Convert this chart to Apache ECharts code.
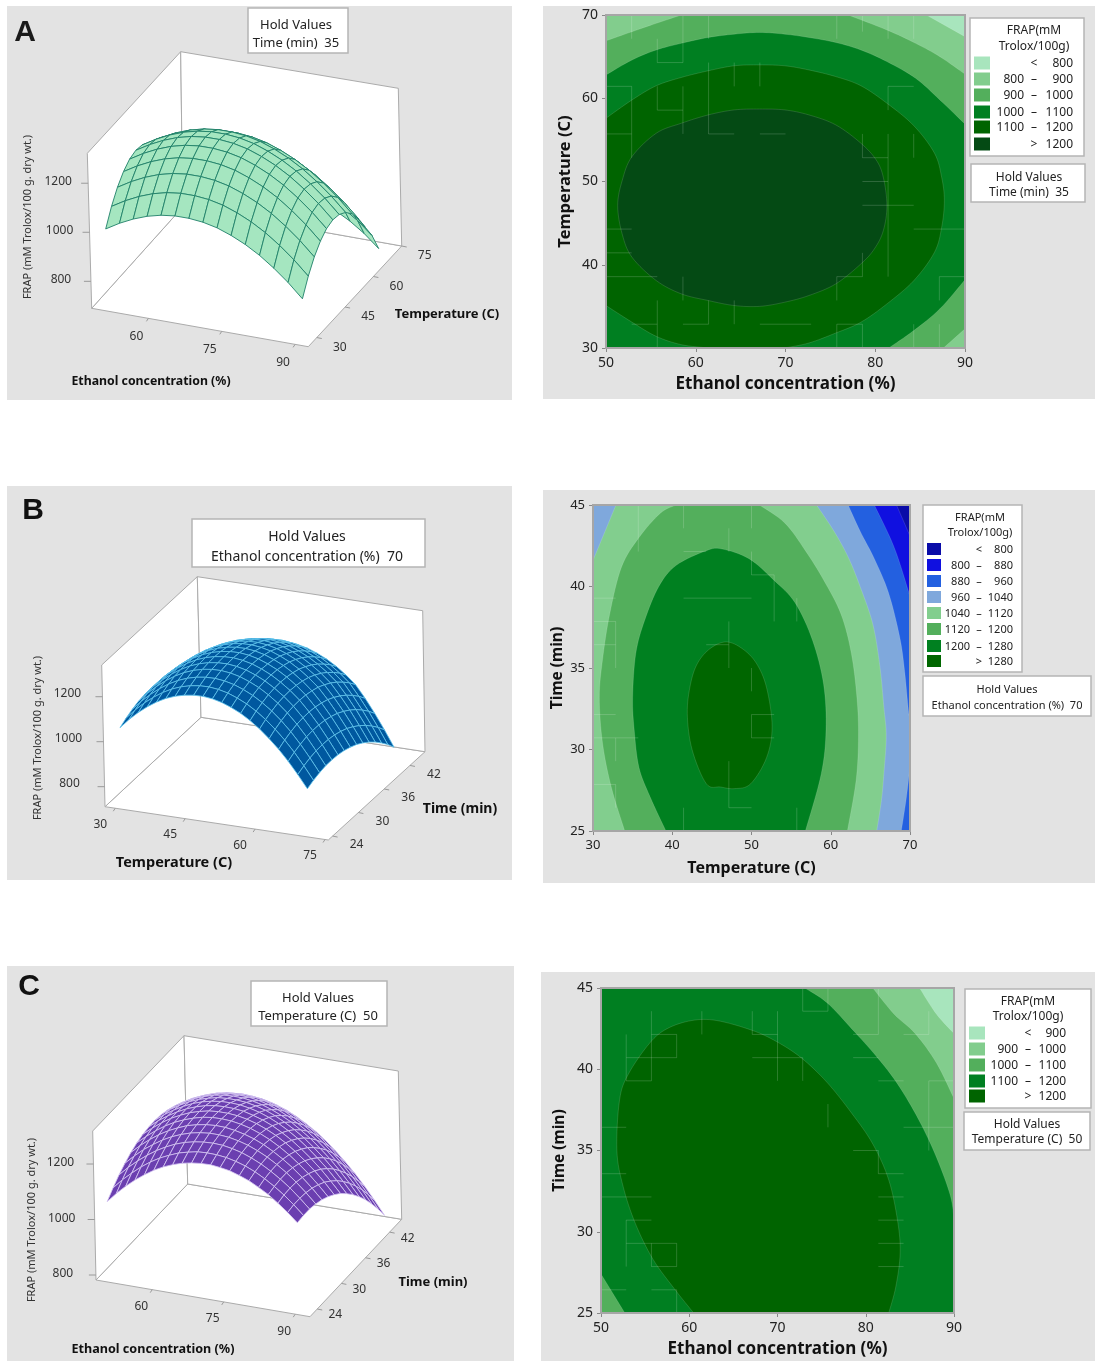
<!DOCTYPE html>
<html>
<head>
<meta charset="utf-8">
<style>html,body{margin:0;padding:0;background:#fff}#c{width:1095px;height:1361px}</style>
<script src="https://cdn.jsdelivr.net/npm/echarts@6/dist/echarts.min.js"></script>
</head>
<body>
<div id="c"></div>
<script>
/* ---------- 3D response surfaces: FRAP values ---------- */
const A_ETHANOL = [50,52.86,55.71,58.57,61.43,64.29,67.14,70,72.86,75.71,78.57,81.43,84.29,87.14,90];
const A_TEMP = [30,33.33,36.67,40,43.33,46.67,50,53.33,56.67,60,63.33,66.67,70];
const A_FRAP = [
[1006,1039,1066,1087,1101,1108,1108,1102,1089,1068,1041,1007,965,917,861],
[1070,1103,1130,1151,1165,1172,1172,1166,1153,1132,1105,1071,1029,981,925],
[1120,1153,1180,1201,1215,1222,1222,1216,1203,1182,1155,1121,1079,1031,975],
[1156,1189,1216,1237,1251,1258,1258,1252,1239,1218,1191,1157,1115,1067,1011],
[1179,1212,1239,1260,1274,1281,1281,1275,1262,1241,1214,1180,1138,1090,1034],
[1187,1220,1247,1268,1282,1289,1289,1283,1270,1249,1222,1188,1146,1098,1042],
[1181,1214,1241,1262,1276,1283,1283,1277,1264,1243,1216,1182,1140,1092,1036],
[1162,1195,1222,1243,1257,1264,1264,1258,1245,1224,1197,1163,1121,1073,1017],
[1129,1162,1189,1210,1224,1231,1231,1225,1212,1191,1164,1130,1088,1040,984],
[1081,1114,1141,1162,1176,1183,1183,1177,1164,1143,1116,1082,1040,992,936],
[1020,1053,1080,1101,1115,1122,1122,1116,1103,1082,1055,1021,979,931,875],
[945,978,1005,1026,1040,1047,1047,1041,1028,1007,980,946,904,865,815],
[856,889,916,937,951,958,958,952,939,918,891,857,825,785,735]];

const B_TEMP = [30,32,34,36,38,40,42,44,46,48,50,52,54,56,58,60,62,64,66,68,70];
const B_TIME = [25,26.43,27.86,29.29,30.71,32.14,33.57,35,36.43,37.86,39.29,40.71,42.14,43.57,45];
const B_FRAP = [
[1056,1099,1136,1168,1195,1217,1233,1244,1250,1251,1246,1236,1220,1200,1174,1143,1106,1065,1018,965,908],
[1073,1116,1153,1185,1212,1234,1250,1261,1267,1268,1263,1253,1237,1217,1191,1160,1123,1081,1033,979,921],
[1086,1129,1166,1198,1225,1247,1263,1274,1280,1281,1276,1266,1250,1230,1204,1173,1136,1093,1044,989,930],
[1096,1139,1176,1208,1235,1257,1273,1284,1290,1291,1286,1276,1260,1240,1214,1183,1146,1102,1052,996,936],
[1101,1144,1181,1213,1240,1262,1278,1289,1295,1296,1291,1281,1265,1245,1219,1188,1151,1106,1055,998,937],
[1103,1146,1183,1215,1242,1264,1280,1291,1297,1298,1293,1283,1267,1247,1221,1190,1153,1107,1055,997,935],
[1101,1144,1181,1213,1240,1262,1278,1289,1295,1296,1291,1281,1265,1245,1219,1188,1151,1104,1051,992,929],
[1095,1138,1175,1207,1234,1256,1272,1283,1289,1290,1285,1275,1259,1239,1213,1182,1145,1097,1043,983,919],
[1086,1129,1166,1198,1225,1247,1263,1274,1280,1281,1276,1266,1250,1230,1204,1173,1136,1087,1032,971,906],
[1072,1115,1152,1184,1211,1233,1249,1260,1266,1267,1262,1252,1236,1216,1190,1159,1122,1072,1016,954,888],
[1055,1098,1135,1167,1194,1216,1232,1243,1249,1250,1245,1235,1219,1199,1173,1142,1105,1054,997,934,867],
[1034,1077,1114,1146,1173,1195,1211,1222,1228,1229,1224,1214,1198,1178,1152,1121,1084,1032,974,910,842],
[1009,1052,1089,1121,1148,1170,1186,1197,1203,1204,1199,1189,1173,1153,1127,1096,1059,1006,947,882,813],
[981,1024,1061,1093,1120,1142,1158,1169,1175,1176,1171,1161,1145,1125,1099,1068,1031,977,917,851,781],
[948,991,1028,1060,1087,1109,1125,1136,1142,1143,1138,1128,1112,1092,1066,1035,998,943,882,815,744]];

const C_ETHANOL = [50,52,54,56,58,60,62,64,66,68,70,72,74,76,78,80,82,84,86,88,90];
const C_TIME = [25,26.43,27.86,29.29,30.71,32.14,33.57,35,36.43,37.86,39.29,40.71,42.14,43.57,45];
const C_FRAP = [
[1064,1100,1132,1160,1185,1207,1225,1239,1250,1257,1261,1262,1258,1252,1241,1228,1210,1190,1165,1137,1106],
[1091,1126,1156,1184,1208,1228,1244,1258,1267,1274,1276,1275,1271,1263,1252,1237,1218,1196,1171,1142,1109],
[1115,1148,1177,1203,1226,1245,1261,1273,1281,1286,1288,1286,1280,1271,1258,1242,1222,1199,1173,1142,1109],
[1134,1166,1195,1219,1241,1259,1273,1284,1291,1295,1295,1292,1285,1275,1261,1244,1223,1199,1171,1139,1104],
[1150,1181,1208,1232,1252,1268,1282,1291,1297,1300,1299,1294,1286,1275,1260,1241,1219,1194,1165,1132,1096],
[1162,1191,1217,1240,1259,1274,1286,1295,1300,1301,1299,1293,1284,1271,1255,1235,1212,1185,1155,1121,1084],
[1170,1198,1223,1245,1262,1277,1287,1295,1298,1298,1295,1288,1278,1264,1247,1226,1201,1173,1142,1107,1068],
[1174,1202,1225,1245,1262,1275,1285,1291,1293,1292,1288,1279,1268,1253,1234,1212,1186,1157,1125,1088,1049],
[1175,1201,1223,1242,1258,1270,1278,1283,1284,1282,1276,1267,1254,1238,1218,1195,1168,1137,1104,1066,1025],
[1172,1197,1218,1236,1250,1260,1268,1271,1271,1268,1261,1251,1237,1219,1198,1174,1145,1114,1079,1040,998],
[1165,1189,1209,1225,1238,1248,1254,1256,1255,1250,1242,1230,1215,1197,1174,1149,1119,1087,1050,1010,967],
[1155,1177,1196,1211,1223,1231,1236,1237,1235,1229,1220,1207,1190,1170,1147,1120,1090,1056,1018,977,933],
[1140,1161,1179,1193,1204,1211,1214,1214,1211,1204,1193,1179,1161,1140,1116,1088,1056,1021,982,940,894],
[1122,1142,1158,1171,1180,1186,1189,1187,1183,1175,1163,1148,1129,1106,1081,1051,1018,982,942,899,852],
[1100,1119,1134,1146,1154,1158,1160,1157,1151,1142,1129,1112,1092,1069,1042,1011,977,940,899,854,806]];

/* ---------- 3D axis ticks ---------- */
const A_X_TICKS = [60,75,90], A_Y_TICKS = [30,45,60,75], Z_TICKS = [800,1000,1200];
const B_X_TICKS = [30,45,60,75], B_Y_TICKS = [24,30,36,42];
const C_X_TICKS = [60,75,90], C_Y_TICKS = [24,30,36,42];

/* ---------- contour boundaries (x, y), outermost first ---------- */
const A_OVER_800 = [[50,30],[50,70],[85.7,70],[90,67.4],[90,30]];
const A_OVER_900 = [[50,30],[50,66.9],[52.9,68],[55.6,69],[58.4,70],[77,70],[81.3,68.2],[84.5,66.6],[87.2,65],[90,62.9],[90,32.3],[87.6,30]];
const A_OVER_1000 = [[50,30],[50,62.8],[52.9,64.6],[55.6,65.8],[58.4,66.6],[61.4,67.3],[64.3,67.7],[67.1,67.9],[69.9,67.7],[72.6,67.3],[75.6,66.7],[78.4,65.8],[81.3,64.4],[84.5,62.4],[87.2,59.8],[90,56.9],[90,38.2],[87.2,34.7],[84.3,32.1],[81.5,30]];
const A_OVER_1100 = [[50,57.6],[52.9,59.8],[55.6,61.5],[58.4,62.5],[61.4,63.3],[64.3,63.9],[67.1,64],[69.9,63.9],[72.6,63.4],[75.6,62.6],[78.4,61.5],[81.3,59.4],[84.3,56.7],[86.6,53.4],[87.4,50.5],[87.7,47.7],[87.4,44.5],[86.6,41.5],[84.3,38.1],[81.3,35.3],[78.4,33.1],[75.6,31.8],[72.6,30.6],[69.9,30],[61.4,30],[58.4,30.4],[55.6,31.4],[52.9,33.1],[50,35.1]];
const A_OVER_1200 = [[51.3,47.1],[51.8,50.1],[52.9,53],[55.6,55.8],[58.4,57],[61.4,58],[64.3,58.6],[67.1,58.7],[69.9,58.6],[72.6,58],[75.6,56.8],[78.4,54.6],[80.1,52.6],[80.9,50.5],[81.3,47.1],[80.9,44.1],[79.9,41.9],[78.4,40.1],[75.6,37.7],[72.6,36.3],[69.9,35.5],[67.1,35],[64.3,35.1],[61.4,35.7],[58.4,36.5],[55.6,38.1],[52.9,40.9],[51.8,43.7]];

const B_OVER_800 = [[30,25],[30,45],[68.3,45],[70,43.1],[70,25]];
const B_OVER_880 = [[30,25],[30,45],[65.5,45],[68,42.4],[70,39.4],[70,25]];
const B_OVER_960 = [[30,25],[30,45],[62.2,45],[63.7,43.4],[65.5,41.7],[67.3,39.6],[68.7,36.9],[69.3,34.9],[69.8,32.4],[70,32],[70,28.9],[69.5,26.9],[68.9,25]];
const B_OVER_1040 = [[30,25],[30,41.6],[32.9,45],[58.2,45],[60.4,43.4],[62.2,41.8],[63.7,40],[65.3,37.7],[66.2,35.1],[66.7,32.6],[67,30.8],[66.7,28.5],[66.4,26.9],[65.8,25]];
const B_OVER_1120 = [[34,25],[32.3,27.7],[31.2,30.4],[30.8,33.2],[31.2,35.5],[32.1,38.3],[33.6,41.2],[35.8,43],[38.5,44.5],[40.5,45],[51,45],[54.2,43.9],[56.8,42.2],[59.1,40.4],[61.3,38.3],[62.6,35.9],[63.3,33.2],[63.5,30.8],[63.2,28.1],[62.1,25]];
const B_OVER_1200 = [[39.2,25],[37.2,27.1],[35.8,28.9],[35.2,31.2],[35,33.2],[35.4,35.9],[36.5,37.9],[38.3,40],[40.5,41.3],[44.3,42.2],[46.3,42.3],[49.7,41.7],[52.8,40.4],[55.5,39],[57.7,36.7],[59.1,34],[59.4,31.2],[58.8,28.5],[56.8,25]];
const B_OVER_1280 = [[41.9,32.2],[42.3,34],[43.2,35.3],[44.8,36.2],[46.8,36.6],[48.8,36.2],[50.6,35.3],[51.9,33.8],[52.6,31.4],[51.9,29.5],[49.9,27.9],[47.9,27.6],[46.1,27.7],[44.3,27.9],[42.5,30]];

const C_OVER_900 = [[50,25],[50,45],[86.1,45],[88,43.4],[90,42.2],[90,25]];
const C_OVER_1000 = [[50,25],[50,45],[80.8,45],[83.2,43.4],[85.6,42.2],[88,40.4],[90,38.2],[90,25]];
const C_OVER_1100 = [[50,27.4],[50,45],[73.1,45],[75.6,44.1],[78.4,42.5],[81.2,40.8],[83.6,39.1],[86,36.9],[88,34.6],[89.6,32.2],[90,30.7],[90,25],[52.7,25]];
const C_OVER_1200 = [[60.5,25],[58.3,26.5],[55.9,28.3],[53.9,30.5],[52.5,32.8],[51.8,35],[52.1,38.1],[53.1,39.7],[55.5,41.6],[57.5,42.5],[60.3,43],[63.1,43],[67.1,42.4],[69.9,41.7],[72.7,40.7],[75.6,39.2],[78.4,37.3],[80.8,35.4],[82.6,33.2],[83.6,30.7],[83.9,28.7],[83.4,26.6],[82.6,25]];

/* ---------- faint mesh seams in the contour fills, as [col0,row0,col1,row1] on a 14×14 mesh ---------- */
const A_SEAMS = [[1,14,1,13],[3,14,3,12],[4,14,4,13],[9,14,9,13],[10,14,10,13.3],[11,14,11,13],[12,14,12,13],[2,13,2,12],[2,12,3,12],[2,11,2,10],[2,10,3,10],[0,11,1,11],[1,11,1,8],[0,9,1,9],[3,11,3,9],[4,12,4,9],[4,9,5,9],[5,12,5,11],[6,9,7,9],[6,12,6,11],[10,9,10,8],[10,8,11,8],[10,7,11,7],[10,6,12,6],[11,9,11,3],[11,11,12,11],[11,11,11,10],[12,9,12,8],[0,5,1,5],[0,4,1,4],[0,3,2,3],[3,3,3,2],[10,4,10,3],[9,3,10,3],[9,3,9,2],[2,2,2,1],[1,1,2,1],[3,1,4,1],[4,2,4,1],[5,2,5,1],[6,1,8,1],[9,1,10,1],[9,1,9,0],[10,1,10,0],[12,1,12,0],[12,5,14,5],[13,3,14,3],[13,3,13,2],[2,1,2,0],[13,1,13,0]];
const B_SEAMS = [[2,14,2,12],[4,14,4,13],[7,14,7,13],[4,12,5,12],[6,13,6,12],[7,12,7,11],[7,11,8,11],[8,11,8,9],[0,10,1,10],[4,10,7,10],[0,9,1,9],[1,9,1,7],[5,8,6,8],[6,9,6,8],[0,8,1,8],[6,8,6,7],[7,7,7,6],[0,5,1,5],[0,4,2,4],[1,4,1,3],[0,2,1,2],[1,2,1,1],[9,10,9,9],[7,5,7,4],[7,5,8,5],[7,4,8,4],[6,3,6,1],[4,1,4,0],[9,1,9,0],[6,1,7,1]];
const C_SEAMS = [[8,14,8,13],[8,13,9,13],[9,14,9,13],[2,13,2,10],[2,12,3,12],[3,12,3,11],[1,11,3,11],[1,12,1,10],[1,10,2,10],[4,13,4,12],[6,13,6,12],[6,12,7,12],[7,13,7,10],[6,11,8,11],[8,11,8,10],[10,12,11,12],[11,14,11,12],[13,13,13,12],[12,12,13,12],[13,10,13,8],[13,10,14,10],[12,8,14,8],[13,8,13,7],[10,11,11,11],[11,10,12,10],[9,9,9,8],[0,8,1,8],[0,6,1,6],[0,5,2,5],[1,4,2,4],[10,7,11,7],[11,7,11,6],[11,6,12,6],[11,5,12,5],[11,4,12,4],[11,3,12,3],[11,2,12,2],[1,3,3,3],[2,3,2,2],[2,2,3,2],[3,3,3,2],[1,4,1,2],[0,1,1,1],[2,1,3,1],[3,1,3,0]];

/* ---------- legend contents ---------- */
const A_LEGEND = [['','<','800'],['800','–','900'],['900','–','1000'],['1000','–','1100'],['1100','–','1200'],['','>','1200']];
const B_LEGEND = [['','<','800'],['800','–','880'],['880','–','960'],['960','–','1040'],['1040','–','1120'],['1120','–','1200'],['1200','–','1280'],['','>','1280']];
const C_LEGEND = [['','<','900'],['900','–','1000'],['1000','–','1100'],['1100','–','1200'],['','>','1200']];
const A_COLORS = ['#A8E5BD','#82CD8D','#53AF5C','#007F21','#006400','#044A14'];
const B_COLORS = ['#0A0CA8','#1010E0','#2360E0','#7FA8DC','#82CE8E','#53AF5C','#008020','#006600'];
const C_COLORS = ['#A8E5BD','#82CD8D','#53AF5C','#007F21','#006400'];

const SANS = '"Noto Sans","Open Sans",sans-serif';
const chart = echarts.init(document.getElementById('c'), null, {renderer:'canvas'});

/* trilinear map of the plot box: layout of each 3D panel */
function makeProjection(box,xr,yr,off){
  const lerp=(a,b,t)=>[a[0]+(b[0]-a[0])*t,a[1]+(b[1]-a[1])*t];
  return (x,y,z)=>{
    const u=(x-xr[0])/(xr[1]-xr[0]), v=(y-yr[0])/(yr[1]-yr[0]), w=(z-box.z[0])/(box.z[1]-box.z[0]);
    const f=lerp(lerp(box.FL,box.FR,u),lerp(box.BL,box.BR,u),v);
    const t=lerp(lerp(box.TL,box.TFR,u),lerp(box.TB,box.TR,u),v);
    const p=lerp(f,t,w);
    return [p[0]+off[0],p[1]+off[1]];
  };
}
const BOX_A={x:[48.4,92.7],y:[25.5,75],sy:[25.5,75],z:[690,1322],sOff:[0,6],FL:[91.7,308.3],FR:[308.3,346.7],BR:[401.7,246],BL:[182.7,207],TL:[87.3,153.3],TFR:[304,190],TR:[398.3,88.3],TB:[180.7,51.7],
  xOff:[-12,18],yOff:[23,10],zOff:[-30,-2]};
const BOX_B={x:[27.8,75.7],y:[23,45.5],sy:[23,45.5],z:[711,1341],sOff:[-2,5],FL:[105,806.7],FR:[328.3,840],BR:[425,751.7],BL:[201,717.3],TL:[101.7,665],TFR:[325.3,698],TR:[422.7,610.7],TB:[197.3,576.7],
  xOff:[-15,16],yOff:[24,9],zOff:[-35,-3]};
const BOX_C={x:[48.2,93.1],y:[22.2,45],sy:[24,45.5],z:[782,1319],sOff:[0,3],FL:[96,1280],FR:[310,1316.7],BR:[401.7,1219.3],BL:[187.7,1184],TL:[92.7,1131],TFR:[306.5,1167.7],TR:[398.3,1071],TB:[184,1035.7],
  xOff:[-11,17],yOff:[18,6],zOff:[-33,-1]};

function boxSeries(box,xTicks,yTicks,zTicks,fontSize){
  const P=makeProjection(box,box.x,box.y,[0,0]);
  return {type:'custom',coordinateSystem:'cartesian2d',xAxisIndex:0,yAxisIndex:0,silent:true,animation:false,z:2,
    data:[[0,0]],
    renderItem(params,api){
      const c=p=>api.coord(p);
      const line={stroke:'#ABABAB',lineWidth:1,fill:'#fff'};
      const poly=pts=>({type:'polygon',shape:{points:pts.map(c)},style:line});
      const kids=[poly([box.FL,box.FR,box.BR,box.BL]),poly([box.FL,box.TL,box.TB,box.BL]),poly([box.BL,box.TB,box.TR,box.BR])];
      const seg=(a,b)=>({type:'line',shape:{x1:c(a)[0],y1:c(a)[1],x2:c(b)[0],y2:c(b)[1]},style:{stroke:'#9A9A9A',lineWidth:1}});
      const txt=(p,s)=>({type:'text',x:c(p)[0],y:c(p)[1],style:{text:String(s),fill:'#333',font:fontSize+'px '+SANS,align:'center',verticalAlign:'middle',textAlign:'center',textVerticalAlign:'middle'}});
      xTicks.forEach(t=>{const p=P(t,box.y[0],box.z[0]);kids.push(seg(p,[p[0]-2,p[1]+3]));kids.push(txt([p[0]+box.xOff[0],p[1]+box.xOff[1]],t));});
      yTicks.forEach(t=>{const p=P(box.x[1],t,box.z[0]);kids.push(seg(p,[p[0]+5,p[1]+1]));kids.push(txt([p[0]+box.yOff[0],p[1]+box.yOff[1]],t));});
      zTicks.forEach(t=>{const p=P(box.x[0],box.y[0],t);kids.push(seg(p,[p[0]-7,p[1]]));kids.push(txt([p[0]+box.zOff[0],p[1]+box.zOff[1]],t));});
      return {type:'group',children:kids};
    }};
}
function surfaceSeries(box,xs,ys,zs,fill,stroke,lw){
  const P=makeProjection(box,box.x,box.sy,box.sOff), cells=[];
  for(let i=0;i<xs.length-1;i++) for(let j=ys.length-2;j>=0;j--) cells.push([i,j]);
  return {type:'custom',coordinateSystem:'cartesian2d',xAxisIndex:0,yAxisIndex:0,silent:true,animation:false,z:3,progressive:0,
    data:cells,
    renderItem(params,api){
      const i=api.value(0), j=api.value(1);
      const pts=[[i,j],[i+1,j],[i+1,j+1],[i,j+1]].map(q=>api.coord(P(xs[q[0]],ys[q[1]],zs[q[1]][q[0]])));
      return {type:'polygon',shape:{points:pts},style:{fill,stroke,lineWidth:lw}};
    }};
}
/* rounds the drawn outline between the vertices; edges along the plot border stay straight */
function roundOutline(poly,xr,yr,api){
  const on=p=>p[0]===xr[0]||p[0]===xr[1]||p[1]===yr[0]||p[1]===yr[1];
  const n=poly.length,out=[];
  for(let i=0;i<n;i++){
    const a=poly[i],b=poly[(i+1)%n];
    const pa=api.coord(a),pb=api.coord(b);
    if(on(a)&&on(b)){out.push(pa);continue;}
    const p0=on(a)?pa:api.coord(poly[(i-1+n)%n]);
    const p3=on(b)?pb:api.coord(poly[(i+2)%n]);
    const c1=[pa[0]+(pb[0]-p0[0])/6,pa[1]+(pb[1]-p0[1])/6];
    const c2=[pb[0]-(p3[0]-pa[0])/6,pb[1]-(p3[1]-pa[1])/6];
    for(let s=0;s<8;s++){
      const t=s/8,m=1-t;
      out.push([m*m*m*pa[0]+3*m*m*t*c1[0]+3*m*t*t*c2[0]+t*t*t*pb[0],m*m*m*pa[1]+3*m*m*t*c1[1]+3*m*t*t*c2[1]+t*t*t*pb[1]]);
    }
  }
  return out;
}
function contourSeries(gridIdx,bands,colors,xr,yr){
  const polys=[[[xr[0],yr[0]],[xr[0],yr[1]],[xr[1],yr[1]],[xr[1],yr[0]]]].concat(bands);
  return {type:'custom',coordinateSystem:'cartesian2d',xAxisIndex:gridIdx,yAxisIndex:gridIdx,silent:true,animation:false,z:2,progressive:0,
    data:polys.map((p,i)=>[i,0]),
    renderItem(params,api){
      const k=params.dataIndex;
      return {type:'polygon',shape:{points:roundOutline(polys[k],xr,yr,api)},
        style:{fill:colors[k],stroke:k?'rgba(255,255,255,0.22)':'none',lineWidth:0.6}};
    }};
}
function seamSeries(gridIdx,seams,xr,yr){
  const X=k=>xr[0]+k*(xr[1]-xr[0])/14, Y=j=>yr[0]+j*(yr[1]-yr[0])/14;
  return {type:'custom',coordinateSystem:'cartesian2d',xAxisIndex:gridIdx,yAxisIndex:gridIdx,silent:true,animation:false,z:3,progressive:0,
    data:seams,
    renderItem(params,api){
      const s=seams[params.dataIndex],a=api.coord([X(s[0]),Y(s[1])]),b=api.coord([X(s[2]),Y(s[3])]);
      return {type:'line',shape:{x1:a[0],y1:a[1],x2:b[0],y2:b[1]},style:{stroke:'rgba(255,255,255,0.17)',lineWidth:1}};
    }};
}
function frameSeries(gridIdx,xr,yr){
  return {type:'custom',coordinateSystem:'cartesian2d',xAxisIndex:gridIdx,yAxisIndex:gridIdx,silent:true,animation:false,z:5,
    data:[[xr[0],yr[0]]],
    renderItem(params,api){
      const pts=[[xr[0],yr[0]],[xr[0],yr[1]],[xr[1],yr[1]],[xr[1],yr[0]]].map(p=>api.coord(p));
      return {type:'polygon',shape:{points:pts},style:{fill:'none',stroke:'#A6A6A6',lineWidth:2}};
    }};
}

/* ---------- non-data furniture ---------- */
const gfx=[];
const rect=(x,y,w,h,fill,stroke,z)=>gfx.push({type:'rect',z:z,silent:true,shape:{x,y,width:w,height:h},style:{fill,stroke:stroke||'none',lineWidth:stroke?1.5:0}});
const label=(x,y,text,font,align,rot,fill)=>gfx.push({type:'text',z:6,silent:true,x,y:y+1,rotation:rot||0,style:{text,font,fill:fill||'#222',align:align||'center',verticalAlign:'middle',textAlign:align||'center',textVerticalAlign:'middle'}});
[[7,6,505,394],[543,6,552,393],[7,486,505,394],[543,490,552,393],[7,966,507,395],[541,972,554,389]].forEach(r=>rect(r[0],r[1],r[2],r[3],'#E3E3E3',null,-10));
function hold(x0,y0,x1,y1,cx,y1t,y2t,t2,size){
  rect(x0,y0,x1-x0,y1-y0,'#fff','#B5B5B5',5);
  label(cx,y1t,'Hold Values',size+'px '+SANS);
  label(cx,y2t,t2,size+'px '+SANS);
}
function legendBox(b,rows,colors,size){
  rect(b.x0,b.y0,b.x1-b.x0,b.y1-b.y0,'#fff','#B5B5B5',5);
  label(b.tx,b.t1,'FRAP(mM',size+'px '+SANS);
  label(b.tx,b.t2,'Trolox/100g)',size+'px '+SANS);
  rows.forEach((r,i)=>{
    const y=b.rows[i];
    rect(b.sx,y-b.sh/2,b.sw,b.sh,colors[i],null,5);
    if(r[0]) label(b.lo,y,r[0],size+'px '+SANS,'right');
    label(b.dash,y,r[1],size+'px '+SANS);
    label(b.hi,y,r[2],size+'px '+SANS,'right');
  });
}
hold(248,8,348,53,296,24,42,'Time (min)  35',13);
hold(192,519,425,567,307,536,556,'Ethanol concentration (%)  70',14);
hold(251,981,387,1026,318,997,1015,'Temperature (C)  50',13);
hold(971,164,1085,202,1029,177,192,'Time (min)  35',12);
hold(923,676,1091,716,1007,689,705,'Ethanol concentration (%)  70',11);
hold(964,1112,1090,1150,1027,1124,1139,'Temperature (C)  50',12);
legendBox({x0:970,y0:18,x1:1084,y1:156,tx:1034,t1:30,t2:46,rows:[63,79,95,112,127,144],sx:974,sw:16,sh:13,lo:1024,dash:1034,hi:1073},A_LEGEND,A_COLORS,12);
legendBox({x0:923,y0:505,x1:1022,y1:672,tx:980,t1:517,t2:532,rows:[549,565,581,597,613,629,646,661],sx:927,sw:14,sh:12,lo:970,dash:979,hi:1013},B_LEGEND,B_COLORS,11);
legendBox({x0:965,y0:989,x1:1091,y1:1108,tx:1028,t1:1001,t2:1016,rows:[1033,1049,1065,1081,1096],sx:969,sw:16,sh:13,lo:1018,dash:1028,hi:1066},C_LEGEND,C_COLORS,12);
const LETTER='bold 30px "Liberation Sans",sans-serif';
label(25,32,'A',LETTER,'center',0,'#1a1a1a'); label(33,510,'B',LETTER,'center',0,'#111'); label(29,986,'C',LETTER,'center',0,'#111');
const Y11='11px '+SANS;
label(151,380,'Ethanol concentration (%)','bold 12.3px '+SANS,'center',0,'#111');
label(447,313,'Temperature (C)','bold 13px '+SANS,'center',0,'#111');
label(28,216,'FRAP (mM Trolox/100 g. dry wt.)',Y11,'center',Math.PI/2,'#333');
label(174,862,'Temperature (C)','bold 14.5px '+SANS,'center',0,'#111');
label(460,808,'Time (min)','bold 14px '+SANS,'center',0,'#111');
label(38,737,'FRAP (mM Trolox/100 g. dry wt.)',Y11,'center',Math.PI/2,'#333');
label(153,1348,'Ethanol concentration (%)','bold 12.6px '+SANS,'center',0,'#111');
label(433,1281,'Time (min)','bold 13px '+SANS,'center',0,'#111');
label(32,1219,'FRAP (mM Trolox/100 g. dry wt.)',Y11,'center',Math.PI/2,'#333');

/* ---------- grids and axes ---------- */
const GRIDS=[{left:0,top:0,width:1095,height:1361},
  {left:606,top:15,width:359,height:333},
  {left:593,top:505,width:317,height:326},
  {left:601,top:988,width:353,height:325}];
const valueAxis=(extra,name,fs,gap,lab)=>Object.assign({type:'value',name,nameLocation:'middle',nameGap:gap,
  nameTextStyle:{fontFamily:SANS,fontWeight:'bold',fontSize:fs,color:'#111'},
  axisLine:{show:true,lineStyle:{color:'#A6A6A6',width:2}},axisTick:{show:true,length:4,lineStyle:{color:'#888'}},
  axisLabel:{fontFamily:SANS,fontSize:lab,color:'#222',margin:8,showMinLabel:true,showMaxLabel:true},splitLine:{show:false},z:4},extra);
const xAxes=[{type:'value',show:false,min:0,max:1095,gridIndex:0},
  valueAxis({gridIndex:1,min:50,max:90,interval:10},'Ethanol concentration (%)',17,28,14),
  valueAxis({gridIndex:2,min:30,max:70,interval:10},'Temperature (C)',16,29,13),
  valueAxis({gridIndex:3,min:50,max:90,interval:10},'Ethanol concentration (%)',17,28,14)];
const yAxes=[{type:'value',show:false,min:0,max:1361,inverse:true,gridIndex:0},
  valueAxis({gridIndex:1,min:30,max:70,interval:10},'Temperature (C)',16.5,32,14),
  valueAxis({gridIndex:2,min:25,max:45,interval:5},'Time (min)',15.5,27,13),
  valueAxis({gridIndex:3,min:25,max:45,interval:5},'Time (min)',15.5,33,14)];

chart.setOption({
  animation:false,backgroundColor:'#fff',
  grid:GRIDS,xAxis:xAxes,yAxis:yAxes,graphic:{elements:gfx},
  series:[
    boxSeries(BOX_A,A_X_TICKS,A_Y_TICKS,Z_TICKS,12),
    surfaceSeries(BOX_A,A_ETHANOL,A_TEMP,A_FRAP,'#A5E6C0','#1F8069',0.9),
    boxSeries(BOX_B,B_X_TICKS,B_Y_TICKS,Z_TICKS,12),
    surfaceSeries(BOX_B,B_TEMP,B_TIME,B_FRAP,'#00589F','#5FC4EC',0.8),
    boxSeries(BOX_C,C_X_TICKS,C_Y_TICKS,Z_TICKS,12),
    surfaceSeries(BOX_C,C_ETHANOL,C_TIME,C_FRAP,'#6B3FB0','#D6C6F3',0.8),
    contourSeries(1,[A_OVER_800,A_OVER_900,A_OVER_1000,A_OVER_1100,A_OVER_1200],A_COLORS,[50,90],[30,70]),
    contourSeries(2,[B_OVER_800,B_OVER_880,B_OVER_960,B_OVER_1040,B_OVER_1120,B_OVER_1200,B_OVER_1280],B_COLORS,[30,70],[25,45]),
    contourSeries(3,[C_OVER_900,C_OVER_1000,C_OVER_1100,C_OVER_1200],C_COLORS,[50,90],[25,45]),
    seamSeries(1,A_SEAMS,[50,90],[30,70]),
    seamSeries(2,B_SEAMS,[30,70],[25,45]),
    seamSeries(3,C_SEAMS,[50,90],[25,45]),
    frameSeries(1,[50,90],[30,70]),
    frameSeries(2,[30,70],[25,45]),
    frameSeries(3,[50,90],[25,45])
  ]
});
</script>
</body>
</html>
